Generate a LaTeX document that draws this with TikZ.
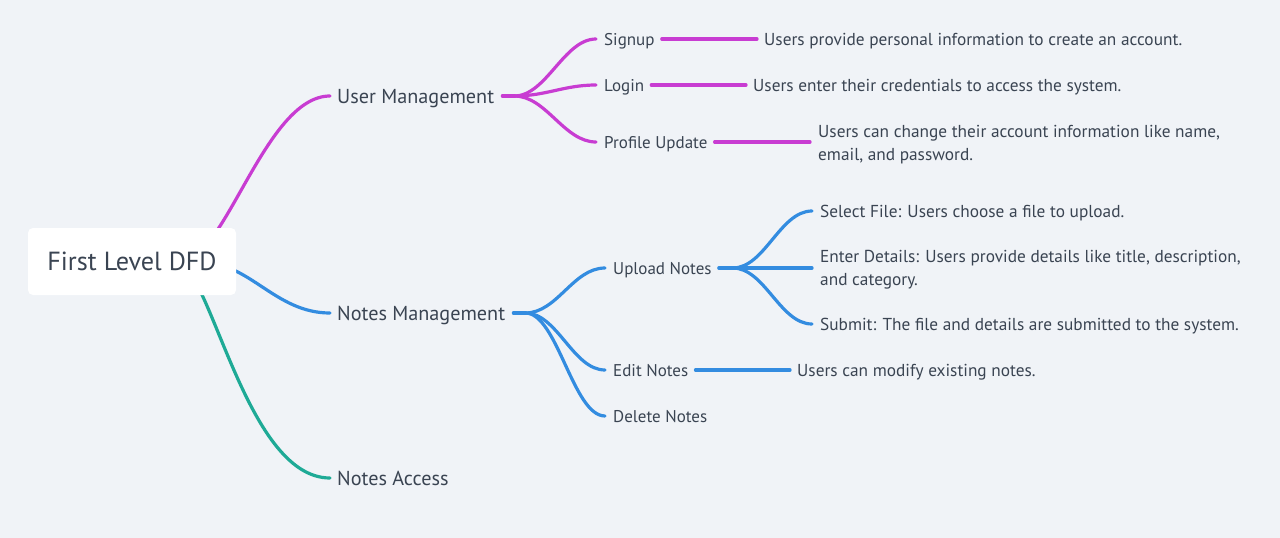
\documentclass[tikz,border=0pt]{standalone}
\usepackage{fontspec}
\setmainfont{PT Sans}
\usetikzlibrary{calc}
\definecolor{bgc}{HTML}{F0F3F7}
\definecolor{tc}{HTML}{3A4452}
\definecolor{magc}{HTML}{C83CD2}
\definecolor{bluc}{HTML}{338CE0}
\definecolor{teac}{HTML}{1EAA96}
\pgfdeclarelayer{back}
\pgfdeclarelayer{lines}
\pgfsetlayers{back,lines,main}
\begin{document}
\begin{tikzpicture}[x=1pt,y=-1pt,
  conn/.style={line width=3.2pt, line cap=round},
  mg/.style={conn, draw=magc},
  bl/.style={conn, draw=bluc},
  tl/.style={conn, draw=teac},
  rootbox/.style={fill=white, rounded corners=5pt, minimum width=208pt, minimum height=67pt, inner sep=0pt, text=tc, font=\fontsize{26.2}{30}\selectfont},
  lone/.style={font=\fontsize{20.2}{24}\selectfont, text height=14pt, text depth=0pt, inner sep=0pt, anchor=west, text=tc},
  ltwo/.style={font=\fontsize{17}{23}\selectfont, text height=12pt, text depth=0pt, inner sep=0pt, anchor=west, text=tc},
  leaf/.style={font=\fontsize{17.3}{23}\selectfont, text height=12pt, text depth=0pt, inner sep=0pt, anchor=west, text=tc},
  leafm/.style={font=\fontsize{17.3}{23}\selectfont, align=left, inner sep=0pt, anchor=west, text=tc, yshift=-2.5pt}
]
\useasboundingbox (0,0) rectangle (1280,538);
\begin{pgfonlayer}{back}
\fill[bgc] (0,0) rectangle (1280,538);
\end{pgfonlayer}

% nodes
\node[rootbox] (root) at (132,261.5) {First Level DFD};
\coordinate (hub) at (180,262);
\coordinate (hubb) at (200,262);
\coordinate (hubt) at (176,262);

\node[lone] (um) at (337,96) {User Management};
\node[lone] (nm) at (337,313) {Notes Management};
\node[lone] (na) at (337,478) {Notes Access};

\node[ltwo] (su) at (604,39) {Signup};
\node[ltwo] (li) at (604,85) {Login};
\node[ltwo] (pu) at (604,142) {Profile Update};

\node[leaf] (sud) at (764,39) {Users provide personal information to create an account.};
\node[leaf] (lid) at (753,85) {Users enter their credentials to access the system.};
\node[leafm] (pud) at (818,142) {Users can change their account information like name,\\email, and password.};

\node[ltwo] (un) at (613,268) {Upload Notes};
\node[ltwo] (en) at (613,370) {Edit Notes};
\node[ltwo] (dn) at (613,416) {Delete Notes};

\node[leaf] (sf) at (820,211) {Select File: Users choose a file to upload.};
\node[leafm] (ed) at (820,267) {Enter Details: Users provide details like title, description,\\and category.};
\node[leaf] (sb) at (820,324) {Submit: The file and details are submitted to the system.};
\node[leaf] (end) at (797,370) {Users can modify existing notes.};

\begin{pgfonlayer}{lines}
% root branches
\draw[mg] (hub) .. controls +(45,0) and +(-65,0) .. ($(um.west)+(-7,0)$);
\draw[bl] (hubb) .. controls +(50,0) and +(-55,0) .. ($(nm.west)+(-7,0)$);
\draw[tl] (hubt) .. controls +(34,0) and +(-85,0) .. ($(na.west)+(-7,0)$);

% user management fan
\draw[mg] ($(um.east)+(8,0)$) -- ++(12,0) coordinate (ju);
\draw[mg] (ju) .. controls +(32,0) and +(-32,0) .. ($(su.west)+(-8,0)$);
\draw[mg] (ju) .. controls +(32,0) and +(-32,0) .. ($(li.west)+(-8,0)$);
\draw[mg] (ju) .. controls +(32,0) and +(-32,0) .. ($(pu.west)+(-8,0)$);
\draw[mg] ($(su.east)+(7,0)$) -- ($(sud.west)+(-7,0)$);
\draw[mg] ($(li.east)+(7,0)$) -- ($(lid.west)+(-7,0)$);
\draw[mg] ($(pu.east)+(7,0)$) -- ($(pu.east -| pud.west)+(-8,0)$);

% notes management fan
\draw[bl] ($(nm.east)+(8,0)$) -- ++(12,0) coordinate (jn);
\draw[bl] (jn) .. controls +(32,0) and +(-32,0) .. ($(un.west)+(-8,0)$);
\draw[bl] (jn) .. controls +(32,0) and +(-32,0) .. ($(en.west)+(-8,0)$);
\draw[bl] (jn) .. controls +(32,0) and +(-32,0) .. ($(dn.west)+(-8,0)$);
\draw[bl] ($(en.east)+(7,0)$) -- ($(end.west)+(-7,0)$);

% upload notes fan
\draw[bl] ($(un.east)+(7,0)$) -- ++(14,0) coordinate (jp);
\draw[bl] (jp) .. controls +(32,0) and +(-32,0) .. ($(sf.west)+(-8,0)$);
\draw[bl] (jp) -- ($(un.east -| ed.west)+(-8,0)$);
\draw[bl] (jp) .. controls +(32,0) and +(-32,0) .. ($(sb.west)+(-8,0)$);
\end{pgfonlayer}
\end{tikzpicture}
\end{document}
